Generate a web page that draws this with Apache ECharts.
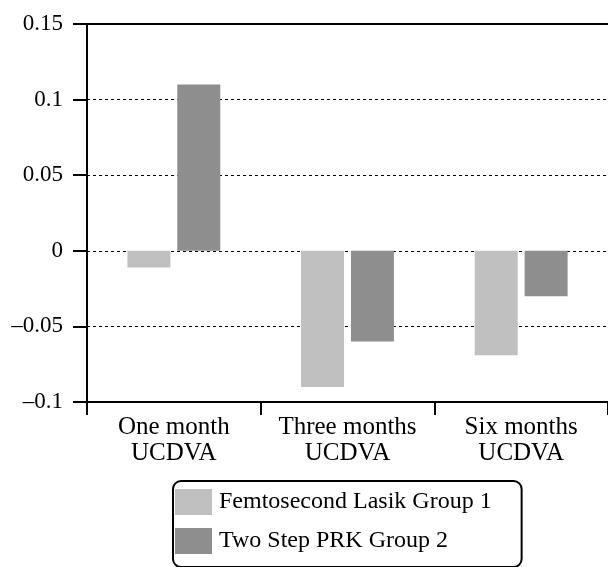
<!DOCTYPE html>
<html>
<head>
<meta charset="utf-8">
<script src="https://cdn.jsdelivr.net/npm/echarts@6/dist/echarts.min.js"></script>
<style>
    html, body { margin: 0; padding: 0; background: #fff; }
    #chart { width: 608px; height: 567px; }
</style>
</head>
<body>
<div id="chart"></div>
<script>

// Data
// ------------------------------

var categories = ['One month\nUCDVA', 'Three months\nUCDVA', 'Six months\nUCDVA'];
var seriesNames = ['Femtosecond Lasik Group 1', 'Two Step PRK Group 2'];
var lasikValues = [-0.011, -0.09, -0.069];
var prkValues = [0.11, -0.06, -0.03];
var yTicks = { min: -0.1, max: 0.15, interval: 0.05 };


// Chart setup
// ------------------------------

var chart_element = document.getElementById('chart');
var chart = echarts.init(chart_element, null, { renderer: 'canvas' });

var serif = '"Liberation Serif", "DejaVu Serif", serif';

chart.setOption({
    animation: false,
    color: ['#c0c0c0', '#8e8e8e'],
    textStyle: {
        fontFamily: serif,
        color: '#000'
    },

    // plot runs to the right edge, like the cropped original
    grid: {
        left: 87,
        right: -3,
        top: 24,
        bottom: 165
    },

    legend: {
        left: 173,
        top: 481,
        orient: 'vertical',
        itemWidth: 37,
        itemHeight: 26,
        itemGap: 13,
        padding: [8, 30, 13, 2],
        borderColor: '#000',
        borderWidth: 2,
        borderRadius: 8,
        selectedMode: false,
        icon: 'rect',
        textStyle: {
            fontFamily: serif,
            fontSize: 24,
            color: '#000',
            padding: [0, 0, 0, 2]
        },
        data: seriesNames
    },

    xAxis: {
        type: 'category',
        data: categories,
        axisLine: { show: true, onZero: false, lineStyle: { color: '#000', width: 2 } },
        axisTick: { show: true, inside: false, length: 13, lineStyle: { color: '#000', width: 2 } },
        axisLabel: {
            interval: 0,
            margin: 12,
            fontFamily: serif,
            fontSize: 25,
            lineHeight: 26,
            color: '#000'
        }
    },

    yAxis: {
        type: 'value',
        min: yTicks.min,
        max: yTicks.max,
        interval: yTicks.interval,
        axisLine: { show: true, lineStyle: { color: '#000', width: 2 } },
        axisTick: { show: true, inside: false, length: 14, lineStyle: { color: '#000', width: 2 } },
        axisLabel: {
            margin: 24,
            fontFamily: serif,
            fontSize: 23,
            color: '#000',
            formatter: function(v) {
                return String(+v.toFixed(2)).replace('-', '\u2013');
            }
        },
        splitLine: {
            show: true,
            lineStyle: { color: '#000', width: 1, type: [3, 3] }
        }
    },

    series: [
        {
            name: seriesNames[0],
            type: 'bar',
            data: lasikValues,
            barWidth: 43,
            barGap: '16%',
            // solid frame line along the top of the plot
            markLine: {
                silent: true,
                symbol: 'none',
                label: { show: false },
                lineStyle: { color: '#000', width: 2, type: 'solid' },
                data: [{ yAxis: yTicks.max }]
            }
        },
        {
            name: seriesNames[1],
            type: 'bar',
            data: prkValues,
            barWidth: 43,
            barGap: '16%'
        }
    ]
});
</script>
</body>
</html>
